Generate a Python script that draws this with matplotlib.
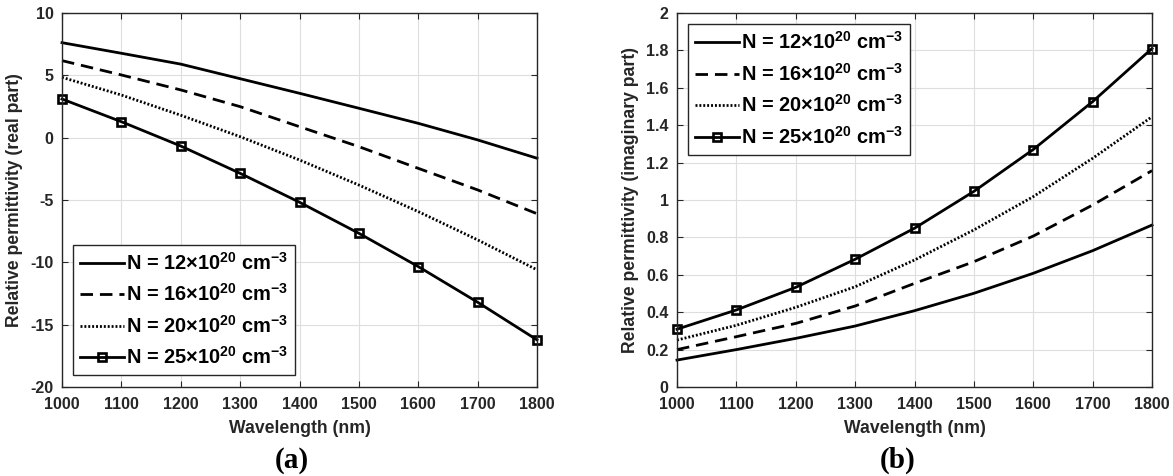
import matplotlib
matplotlib.use("Agg")
import matplotlib.pyplot as plt
from matplotlib.ticker import FormatStrFormatter

plt.rcParams['font.family'] = ['Liberation Sans', 'DejaVu Sans']
plt.rcParams['font.weight'] = 'bold'
plt.rcParams['mathtext.fontset'] = 'custom'
plt.rcParams['mathtext.bf'] = 'Liberation Sans:bold'
plt.rcParams['mathtext.rm'] = 'Liberation Sans:bold'
plt.rcParams['mathtext.default'] = 'bf'

wavelength = [1000, 1100, 1200, 1300, 1400, 1500, 1600, 1700, 1800]

# real part of relative permittivity
real_n12 = [7.62, 6.77, 5.9, 4.73, 3.56, 2.36, 1.15, -0.18, -1.65]
real_n16 = [6.18, 5.03, 3.83, 2.49, 0.88, -0.72, -2.46, -4.19, -6.1]
real_n20 = [4.84, 3.42, 1.8, 0.08, -1.79, -3.8, -5.93, -8.2, -10.6]
real_n25 = [3.1, 1.28, -0.67, -2.86, -5.18, -7.67, -10.34, -13.2, -16.22]

# imaginary part
imag_n12 = [0.144, 0.2, 0.26, 0.326, 0.408, 0.501, 0.608, 0.729, 0.866]
imag_n16 = [0.2, 0.269, 0.34, 0.433, 0.554, 0.67, 0.807, 0.973, 1.157]
imag_n20 = [0.251, 0.33, 0.426, 0.536, 0.679, 0.84, 1.018, 1.223, 1.445]
imag_n25 = [0.309, 0.412, 0.533, 0.683, 0.849, 1.046, 1.27, 1.526, 1.81]

labels = [r'N = 12×10$^{20}$ cm$^{-3}$',
          r'N = 16×10$^{20}$ cm$^{-3}$',
          r'N = 20×10$^{20}$ cm$^{-3}$',
          r'N = 25×10$^{20}$ cm$^{-3}$']

styles = [dict(ls='-'),
          dict(ls=(0, (4.5, 2.5))),
          dict(ls=(0, (0.7, 0.7))),
          dict(ls='-', marker='s', ms=5.5, mfc='none', mec='k', mew=1.9)]

axcol = '#262626'

fig = plt.figure(figsize=(11.73, 4.76), dpi=100)
ax1 = fig.add_axes([62/1173, 1-387/476, 475/1173, 374/476])
ax2 = fig.add_axes([677/1173, 1-387/476, 475/1173, 374/476])


def setup(ax, ylim, yticks, ylabel, fmt):
    ax.set_xlim(1000, 1800)
    ax.set_ylim(*ylim)
    ax.set_xticks(wavelength)
    ax.set_yticks(yticks)
    ax.yaxis.set_major_formatter(FormatStrFormatter(fmt))
    ax.grid(True, color='#dedede', lw=0.8)
    ax.set_axisbelow(True)
    ax.tick_params(direction='in', length=4, width=0.8, colors=axcol,
                   labelsize=11.5, top=True, right=True, pad=6)
    ax.tick_params(axis='x', pad=7)
    for s in ax.spines.values():
        s.set_color(axcol)
        s.set_linewidth(1)
    ax.set_xlabel('Wavelength (nm)', fontsize=12.7, fontweight='bold',
                  color=axcol, labelpad=6)
    ax.set_ylabel(ylabel, fontsize=12.7, fontweight='bold', color=axcol,
                  labelpad=5)


for ys, lab, st in zip([real_n12, real_n16, real_n20, real_n25], labels, styles):
    ax1.plot(wavelength, ys, color='k', lw=2, label=lab, clip_on=False, **st)
for ys, lab, st in zip([imag_n12, imag_n16, imag_n20, imag_n25], labels, styles):
    ax2.plot(wavelength, ys, color='k', lw=2, label=lab, clip_on=False, **st)

setup(ax1, (-20, 10), [-20, -15, -10, -5, 0, 5, 10],
      'Relative permittivity (real part)', '%g')
setup(ax2, (0, 2), [0, 0.2, 0.4, 0.6, 0.8, 1, 1.2, 1.4, 1.6, 1.8, 2],
      'Relative permittivity (imaginary part)', '%g')

leg_kw = dict(fontsize=14.4, frameon=True, fancybox=False, edgecolor=axcol,
              framealpha=1, handlelength=2.2, handletextpad=0.1,
              labelspacing=0.48, borderpad=0.35, borderaxespad=0)
l1 = ax1.legend(loc='lower left', bbox_to_anchor=(0.0238, 0.032), **leg_kw)
l2 = ax2.legend(loc='upper left', bbox_to_anchor=(0.0225, 0.97), **leg_kw)
for l in (l1, l2):
    l.get_frame().set_linewidth(1)

fig.text(292/1173, 1-460/476, '(a)', fontsize=21, fontweight='bold',
         family='Liberation Serif', ha='center', va='center')
fig.text(898/1173, 1-460/476, '(b)', fontsize=21, fontweight='bold',
         family='Liberation Serif', ha='center', va='center')

fig.savefig('out.png', dpi=100)
